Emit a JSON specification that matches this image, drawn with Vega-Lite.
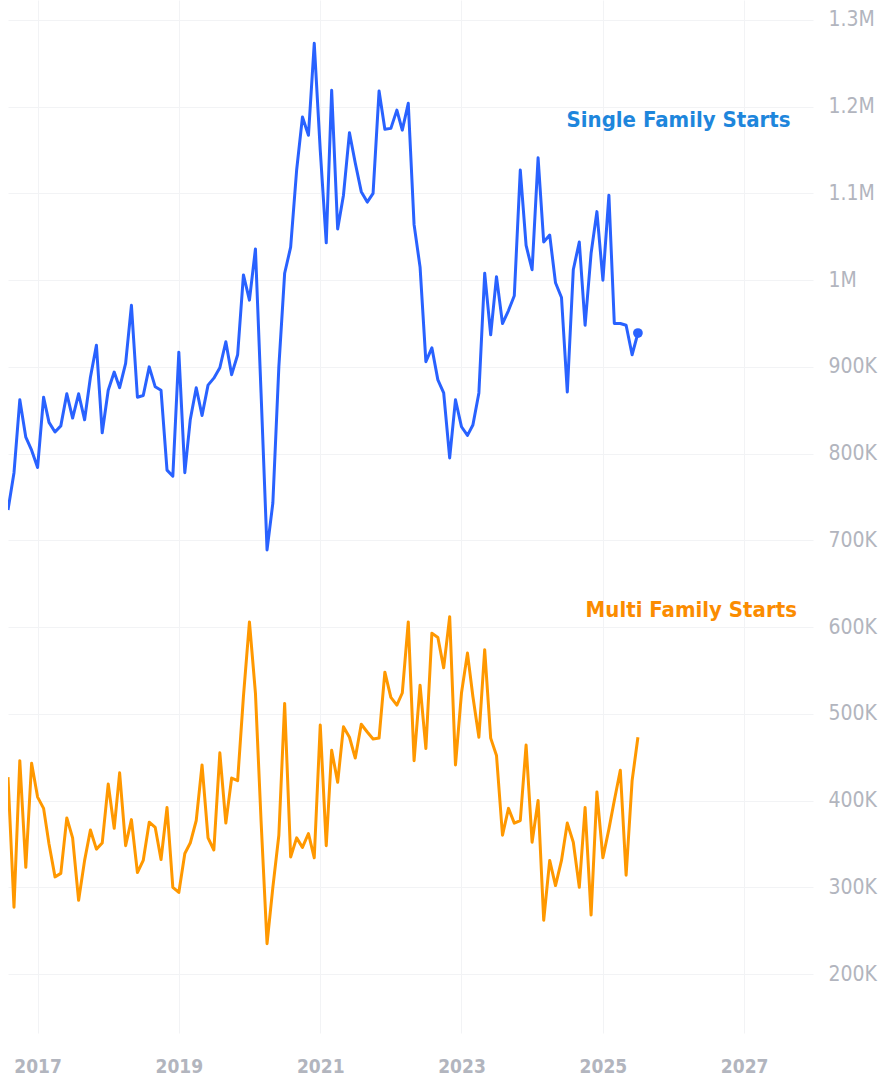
{
  "$schema": "https://vega.github.io/schema/vega-lite/v6.json",
  "autosize": {"type": "none"},
  "padding": {"left": 8, "top": 0, "right": 69, "bottom": 49},
  "width": 805,
  "height": 1033,
  "background": "#ffffff",
  "config": {"view": {"stroke": null}},
  "datasets": {
    "starts": [
      {"date":"2016-08-01","series":"Single Family Starts","value":735000},
      {"date":"2016-09-01","series":"Single Family Starts","value":778000},
      {"date":"2016-10-01","series":"Single Family Starts","value":862000},
      {"date":"2016-11-01","series":"Single Family Starts","value":819000},
      {"date":"2016-12-01","series":"Single Family Starts","value":804000},
      {"date":"2017-01-01","series":"Single Family Starts","value":784000},
      {"date":"2017-02-01","series":"Single Family Starts","value":865000},
      {"date":"2017-03-01","series":"Single Family Starts","value":836000},
      {"date":"2017-04-01","series":"Single Family Starts","value":825000},
      {"date":"2017-05-01","series":"Single Family Starts","value":832000},
      {"date":"2017-06-01","series":"Single Family Starts","value":869000},
      {"date":"2017-07-01","series":"Single Family Starts","value":841000},
      {"date":"2017-08-01","series":"Single Family Starts","value":869000},
      {"date":"2017-09-01","series":"Single Family Starts","value":839000},
      {"date":"2017-10-01","series":"Single Family Starts","value":888000},
      {"date":"2017-11-01","series":"Single Family Starts","value":925000},
      {"date":"2017-12-01","series":"Single Family Starts","value":824000},
      {"date":"2018-01-01","series":"Single Family Starts","value":873000},
      {"date":"2018-02-01","series":"Single Family Starts","value":894000},
      {"date":"2018-03-01","series":"Single Family Starts","value":876000},
      {"date":"2018-04-01","series":"Single Family Starts","value":904000},
      {"date":"2018-05-01","series":"Single Family Starts","value":971000},
      {"date":"2018-06-01","series":"Single Family Starts","value":865000},
      {"date":"2018-07-01","series":"Single Family Starts","value":867000},
      {"date":"2018-08-01","series":"Single Family Starts","value":900000},
      {"date":"2018-09-01","series":"Single Family Starts","value":877000},
      {"date":"2018-10-01","series":"Single Family Starts","value":873000},
      {"date":"2018-11-01","series":"Single Family Starts","value":781000},
      {"date":"2018-12-01","series":"Single Family Starts","value":774000},
      {"date":"2019-01-01","series":"Single Family Starts","value":917000},
      {"date":"2019-02-01","series":"Single Family Starts","value":778000},
      {"date":"2019-03-01","series":"Single Family Starts","value":839000},
      {"date":"2019-04-01","series":"Single Family Starts","value":876000},
      {"date":"2019-05-01","series":"Single Family Starts","value":844000},
      {"date":"2019-06-01","series":"Single Family Starts","value":879000},
      {"date":"2019-07-01","series":"Single Family Starts","value":887000},
      {"date":"2019-08-01","series":"Single Family Starts","value":899000},
      {"date":"2019-09-01","series":"Single Family Starts","value":929000},
      {"date":"2019-10-01","series":"Single Family Starts","value":891000},
      {"date":"2019-11-01","series":"Single Family Starts","value":914000},
      {"date":"2019-12-01","series":"Single Family Starts","value":1006000},
      {"date":"2020-01-01","series":"Single Family Starts","value":977000},
      {"date":"2020-02-01","series":"Single Family Starts","value":1036000},
      {"date":"2020-03-01","series":"Single Family Starts","value":870000},
      {"date":"2020-04-01","series":"Single Family Starts","value":689000},
      {"date":"2020-05-01","series":"Single Family Starts","value":743000},
      {"date":"2020-06-01","series":"Single Family Starts","value":900000},
      {"date":"2020-07-01","series":"Single Family Starts","value":1008000},
      {"date":"2020-08-01","series":"Single Family Starts","value":1038000},
      {"date":"2020-09-01","series":"Single Family Starts","value":1127000},
      {"date":"2020-10-01","series":"Single Family Starts","value":1188000},
      {"date":"2020-11-01","series":"Single Family Starts","value":1167000},
      {"date":"2020-12-01","series":"Single Family Starts","value":1273000},
      {"date":"2021-01-01","series":"Single Family Starts","value":1150000},
      {"date":"2021-02-01","series":"Single Family Starts","value":1043000},
      {"date":"2021-03-01","series":"Single Family Starts","value":1219000},
      {"date":"2021-04-01","series":"Single Family Starts","value":1059000},
      {"date":"2021-05-01","series":"Single Family Starts","value":1098000},
      {"date":"2021-06-01","series":"Single Family Starts","value":1170000},
      {"date":"2021-07-01","series":"Single Family Starts","value":1135000},
      {"date":"2021-08-01","series":"Single Family Starts","value":1102000},
      {"date":"2021-09-01","series":"Single Family Starts","value":1090000},
      {"date":"2021-10-01","series":"Single Family Starts","value":1100000},
      {"date":"2021-11-01","series":"Single Family Starts","value":1218000},
      {"date":"2021-12-01","series":"Single Family Starts","value":1174000},
      {"date":"2022-01-01","series":"Single Family Starts","value":1175000},
      {"date":"2022-02-01","series":"Single Family Starts","value":1196000},
      {"date":"2022-03-01","series":"Single Family Starts","value":1173000},
      {"date":"2022-04-01","series":"Single Family Starts","value":1204000},
      {"date":"2022-05-01","series":"Single Family Starts","value":1064000},
      {"date":"2022-06-01","series":"Single Family Starts","value":1015000},
      {"date":"2022-07-01","series":"Single Family Starts","value":906000},
      {"date":"2022-08-01","series":"Single Family Starts","value":922000},
      {"date":"2022-09-01","series":"Single Family Starts","value":885000},
      {"date":"2022-10-01","series":"Single Family Starts","value":870000},
      {"date":"2022-11-01","series":"Single Family Starts","value":795000},
      {"date":"2022-12-01","series":"Single Family Starts","value":862000},
      {"date":"2023-01-01","series":"Single Family Starts","value":831000},
      {"date":"2023-02-01","series":"Single Family Starts","value":821000},
      {"date":"2023-03-01","series":"Single Family Starts","value":833000},
      {"date":"2023-04-01","series":"Single Family Starts","value":870000},
      {"date":"2023-05-01","series":"Single Family Starts","value":1008000},
      {"date":"2023-06-01","series":"Single Family Starts","value":937000},
      {"date":"2023-07-01","series":"Single Family Starts","value":1004000},
      {"date":"2023-08-01","series":"Single Family Starts","value":950000},
      {"date":"2023-09-01","series":"Single Family Starts","value":965000},
      {"date":"2023-10-01","series":"Single Family Starts","value":982000},
      {"date":"2023-11-01","series":"Single Family Starts","value":1127000},
      {"date":"2023-12-01","series":"Single Family Starts","value":1040000},
      {"date":"2024-01-01","series":"Single Family Starts","value":1012000},
      {"date":"2024-02-01","series":"Single Family Starts","value":1141000},
      {"date":"2024-03-01","series":"Single Family Starts","value":1044000},
      {"date":"2024-04-01","series":"Single Family Starts","value":1052000},
      {"date":"2024-05-01","series":"Single Family Starts","value":997000},
      {"date":"2024-06-01","series":"Single Family Starts","value":980000},
      {"date":"2024-07-01","series":"Single Family Starts","value":871000},
      {"date":"2024-08-01","series":"Single Family Starts","value":1012000},
      {"date":"2024-09-01","series":"Single Family Starts","value":1044000},
      {"date":"2024-10-01","series":"Single Family Starts","value":948000},
      {"date":"2024-11-01","series":"Single Family Starts","value":1031000},
      {"date":"2024-12-01","series":"Single Family Starts","value":1079000},
      {"date":"2025-01-01","series":"Single Family Starts","value":1000000},
      {"date":"2025-02-01","series":"Single Family Starts","value":1098000},
      {"date":"2025-03-01","series":"Single Family Starts","value":950000},
      {"date":"2025-04-01","series":"Single Family Starts","value":950000},
      {"date":"2025-05-01","series":"Single Family Starts","value":948000},
      {"date":"2025-06-01","series":"Single Family Starts","value":914000},
      {"date":"2025-07-01","series":"Single Family Starts","value":939000},
      {"date":"2016-08-01","series":"Multi Family Starts","value":427000},
      {"date":"2016-09-01","series":"Multi Family Starts","value":277000},
      {"date":"2016-10-01","series":"Multi Family Starts","value":446000},
      {"date":"2016-11-01","series":"Multi Family Starts","value":323000},
      {"date":"2016-12-01","series":"Multi Family Starts","value":443000},
      {"date":"2017-01-01","series":"Multi Family Starts","value":404000},
      {"date":"2017-02-01","series":"Multi Family Starts","value":391000},
      {"date":"2017-03-01","series":"Multi Family Starts","value":350000},
      {"date":"2017-04-01","series":"Multi Family Starts","value":312000},
      {"date":"2017-05-01","series":"Multi Family Starts","value":316000},
      {"date":"2017-06-01","series":"Multi Family Starts","value":380000},
      {"date":"2017-07-01","series":"Multi Family Starts","value":357000},
      {"date":"2017-08-01","series":"Multi Family Starts","value":285000},
      {"date":"2017-09-01","series":"Multi Family Starts","value":331000},
      {"date":"2017-10-01","series":"Multi Family Starts","value":366000},
      {"date":"2017-11-01","series":"Multi Family Starts","value":344000},
      {"date":"2017-12-01","series":"Multi Family Starts","value":351000},
      {"date":"2018-01-01","series":"Multi Family Starts","value":419000},
      {"date":"2018-02-01","series":"Multi Family Starts","value":368000},
      {"date":"2018-03-01","series":"Multi Family Starts","value":432000},
      {"date":"2018-04-01","series":"Multi Family Starts","value":348000},
      {"date":"2018-05-01","series":"Multi Family Starts","value":378000},
      {"date":"2018-06-01","series":"Multi Family Starts","value":317000},
      {"date":"2018-07-01","series":"Multi Family Starts","value":331000},
      {"date":"2018-08-01","series":"Multi Family Starts","value":375000},
      {"date":"2018-09-01","series":"Multi Family Starts","value":369000},
      {"date":"2018-10-01","series":"Multi Family Starts","value":332000},
      {"date":"2018-11-01","series":"Multi Family Starts","value":392000},
      {"date":"2018-12-01","series":"Multi Family Starts","value":300000},
      {"date":"2019-01-01","series":"Multi Family Starts","value":294000},
      {"date":"2019-02-01","series":"Multi Family Starts","value":339000},
      {"date":"2019-03-01","series":"Multi Family Starts","value":351000},
      {"date":"2019-04-01","series":"Multi Family Starts","value":377000},
      {"date":"2019-05-01","series":"Multi Family Starts","value":441000},
      {"date":"2019-06-01","series":"Multi Family Starts","value":357000},
      {"date":"2019-07-01","series":"Multi Family Starts","value":343000},
      {"date":"2019-08-01","series":"Multi Family Starts","value":455000},
      {"date":"2019-09-01","series":"Multi Family Starts","value":374000},
      {"date":"2019-10-01","series":"Multi Family Starts","value":426000},
      {"date":"2019-11-01","series":"Multi Family Starts","value":423000},
      {"date":"2019-12-01","series":"Multi Family Starts","value":520000},
      {"date":"2020-01-01","series":"Multi Family Starts","value":606000},
      {"date":"2020-02-01","series":"Multi Family Starts","value":524000},
      {"date":"2020-03-01","series":"Multi Family Starts","value":377000},
      {"date":"2020-04-01","series":"Multi Family Starts","value":235000},
      {"date":"2020-05-01","series":"Multi Family Starts","value":300000},
      {"date":"2020-06-01","series":"Multi Family Starts","value":360000},
      {"date":"2020-07-01","series":"Multi Family Starts","value":512000},
      {"date":"2020-08-01","series":"Multi Family Starts","value":335000},
      {"date":"2020-09-01","series":"Multi Family Starts","value":357000},
      {"date":"2020-10-01","series":"Multi Family Starts","value":346000},
      {"date":"2020-11-01","series":"Multi Family Starts","value":362000},
      {"date":"2020-12-01","series":"Multi Family Starts","value":334000},
      {"date":"2021-01-01","series":"Multi Family Starts","value":487000},
      {"date":"2021-02-01","series":"Multi Family Starts","value":348000},
      {"date":"2021-03-01","series":"Multi Family Starts","value":458000},
      {"date":"2021-04-01","series":"Multi Family Starts","value":421000},
      {"date":"2021-05-01","series":"Multi Family Starts","value":485000},
      {"date":"2021-06-01","series":"Multi Family Starts","value":473000},
      {"date":"2021-07-01","series":"Multi Family Starts","value":449000},
      {"date":"2021-08-01","series":"Multi Family Starts","value":488000},
      {"date":"2021-09-01","series":"Multi Family Starts","value":479000},
      {"date":"2021-10-01","series":"Multi Family Starts","value":471000},
      {"date":"2021-11-01","series":"Multi Family Starts","value":472000},
      {"date":"2021-12-01","series":"Multi Family Starts","value":548000},
      {"date":"2022-01-01","series":"Multi Family Starts","value":519000},
      {"date":"2022-02-01","series":"Multi Family Starts","value":510000},
      {"date":"2022-03-01","series":"Multi Family Starts","value":524000},
      {"date":"2022-04-01","series":"Multi Family Starts","value":606000},
      {"date":"2022-05-01","series":"Multi Family Starts","value":446000},
      {"date":"2022-06-01","series":"Multi Family Starts","value":533000},
      {"date":"2022-07-01","series":"Multi Family Starts","value":460000},
      {"date":"2022-08-01","series":"Multi Family Starts","value":593000},
      {"date":"2022-09-01","series":"Multi Family Starts","value":588000},
      {"date":"2022-10-01","series":"Multi Family Starts","value":553000},
      {"date":"2022-11-01","series":"Multi Family Starts","value":612000},
      {"date":"2022-12-01","series":"Multi Family Starts","value":441000},
      {"date":"2023-01-01","series":"Multi Family Starts","value":524000},
      {"date":"2023-02-01","series":"Multi Family Starts","value":570000},
      {"date":"2023-03-01","series":"Multi Family Starts","value":520000},
      {"date":"2023-04-01","series":"Multi Family Starts","value":473000},
      {"date":"2023-05-01","series":"Multi Family Starts","value":574000},
      {"date":"2023-06-01","series":"Multi Family Starts","value":472000},
      {"date":"2023-07-01","series":"Multi Family Starts","value":452000},
      {"date":"2023-08-01","series":"Multi Family Starts","value":360000},
      {"date":"2023-09-01","series":"Multi Family Starts","value":391000},
      {"date":"2023-10-01","series":"Multi Family Starts","value":374000},
      {"date":"2023-11-01","series":"Multi Family Starts","value":377000},
      {"date":"2023-12-01","series":"Multi Family Starts","value":464000},
      {"date":"2024-01-01","series":"Multi Family Starts","value":352000},
      {"date":"2024-02-01","series":"Multi Family Starts","value":400000},
      {"date":"2024-03-01","series":"Multi Family Starts","value":262000},
      {"date":"2024-04-01","series":"Multi Family Starts","value":331000},
      {"date":"2024-05-01","series":"Multi Family Starts","value":302000},
      {"date":"2024-06-01","series":"Multi Family Starts","value":331000},
      {"date":"2024-07-01","series":"Multi Family Starts","value":374000},
      {"date":"2024-08-01","series":"Multi Family Starts","value":352000},
      {"date":"2024-09-01","series":"Multi Family Starts","value":300000},
      {"date":"2024-10-01","series":"Multi Family Starts","value":392000},
      {"date":"2024-11-01","series":"Multi Family Starts","value":268000},
      {"date":"2024-12-01","series":"Multi Family Starts","value":410000},
      {"date":"2025-01-01","series":"Multi Family Starts","value":334000},
      {"date":"2025-02-01","series":"Multi Family Starts","value":367000},
      {"date":"2025-03-01","series":"Multi Family Starts","value":400000},
      {"date":"2025-04-01","series":"Multi Family Starts","value":435000},
      {"date":"2025-05-01","series":"Multi Family Starts","value":314000},
      {"date":"2025-06-01","series":"Multi Family Starts","value":423000},
      {"date":"2025-07-01","series":"Multi Family Starts","value":473000}
    ],
    "labels": [
      {"label":"Single Family Starts","series":"Single Family Starts","date":"2027-08-29","value":1185000},
      {"label":"Multi Family Starts","series":"Multi Family Starts","date":"2027-10-01","value":620000}
    ]
  },
  "layer": [
    {
      "data": {"name": "starts"},
      "mark": {"type": "line", "strokeWidth": 3, "clip": true, "strokeJoin": "round"},
      "encoding": {
        "x": {
          "field": "date", "type": "temporal",
          "scale": {"type": "utc", "domain": ["2016-08-01", "2027-12-23"]},
          "axis": {
            "title": null, "format": "%Y", "formatType": "utc",
            "values": [
              {"year": 2017, "month": 1, "date": 1, "utc": true},
              {"year": 2019, "month": 1, "date": 1, "utc": true},
              {"year": 2021, "month": 1, "date": 1, "utc": true},
              {"year": 2023, "month": 1, "date": 1, "utc": true},
              {"year": 2025, "month": 1, "date": 1, "utc": true},
              {"year": 2027, "month": 1, "date": 1, "utc": true}
            ],
            "domain": false, "ticks": false, "grid": true, "gridColor": "#f2f3f5", "gridWidth": 1,
            "labelFont": "DejaVu Sans Condensed, DejaVu Sans, sans-serif",
            "labelFontWeight": "bold", "labelFontSize": 19, "labelColor": "#b2b5be",
            "labelPadding": 24, "labelFlush": false
          }
        },
        "y": {
          "field": "value", "type": "quantitative",
          "scale": {"domain": [132000, 1323000], "nice": false, "zero": false},
          "axis": {
            "title": null, "orient": "right",
            "values": [200000, 300000, 400000, 500000, 600000, 700000, 800000, 900000, 1000000, 1100000, 1200000, 1300000],
            "labelExpr": "datum.value >= 1000000 ? format(datum.value / 1000000, '.1~f') + 'M' : format(datum.value / 1000, 'd') + 'K'",
            "domain": false, "ticks": false, "grid": true, "gridColor": "#f2f3f5", "gridWidth": 1,
            "labelFont": "DejaVu Sans Condensed, DejaVu Sans, sans-serif",
            "labelFontSize": 21, "labelColor": "#b2b5be", "labelAlign": "left", "labelPadding": 15
          }
        },
        "color": {
          "field": "series", "type": "nominal",
          "scale": {"domain": ["Single Family Starts", "Multi Family Starts"], "range": ["#2962ff", "#ff9800"]},
          "legend": null
        }
      }
    },
    {
      "data": {"name": "starts"},
      "transform": [{"filter": "datum.series === 'Single Family Starts' && utcyear(datum.date) === 2025 && utcmonth(datum.date) === 6"}],
      "mark": {"type": "point", "filled": true, "size": 95, "opacity": 1},
      "encoding": {
        "x": {"field": "date", "type": "temporal"},
        "y": {"field": "value", "type": "quantitative"},
        "color": {"value": "#2962ff"}
      }
    },
    {
      "data": {"name": "labels"},
      "mark": {"type": "text", "align": "right", "baseline": "middle", "font": "DejaVu Sans Condensed, DejaVu Sans, sans-serif", "fontWeight": "bold", "fontSize": 22},
      "encoding": {
        "x": {"field": "date", "type": "temporal"},
        "y": {"field": "value", "type": "quantitative"},
        "text": {"field": "label"},
        "color": {
          "field": "series", "type": "nominal",
          "scale": {"domain": ["Single Family Starts", "Multi Family Starts"], "range": ["#1e86dc", "#fb8c00"]},
          "legend": null
        }
      }
    }
  ],
  "resolve": {"scale": {"color": "independent"}}
}
